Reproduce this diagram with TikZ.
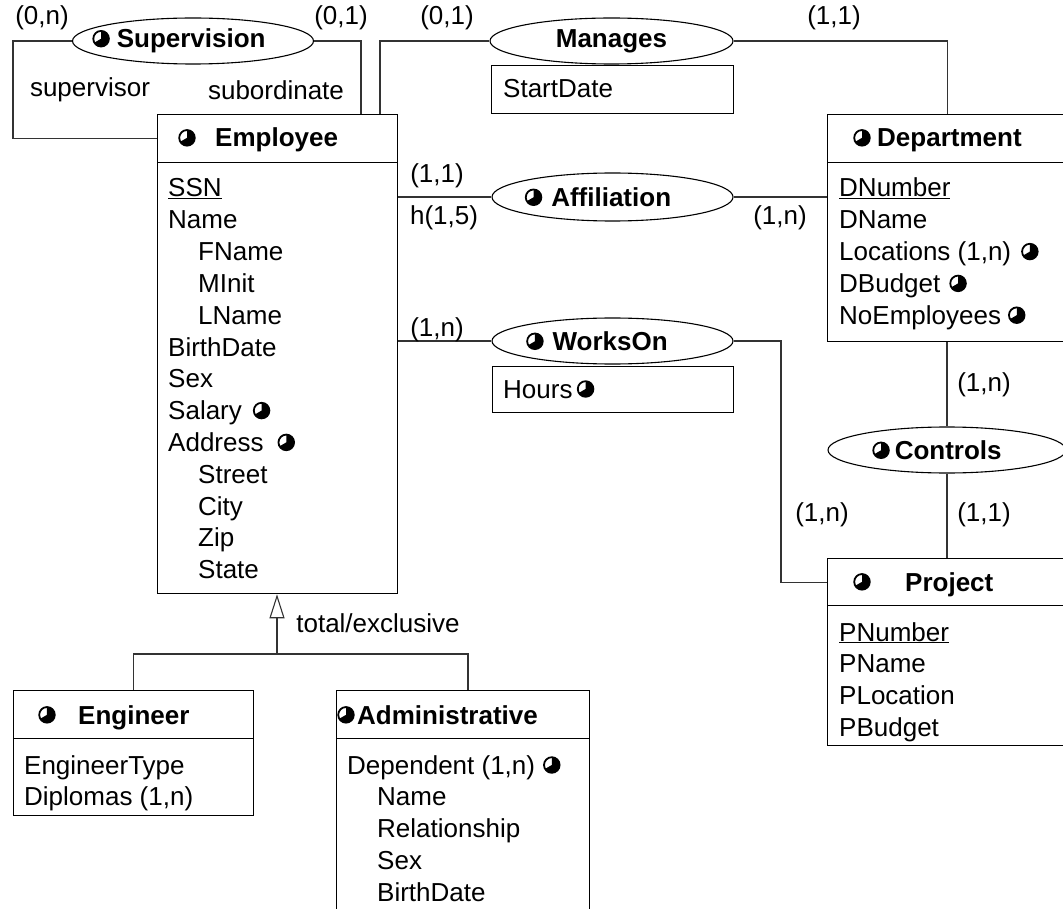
\documentclass[tikz,border=0pt]{standalone}
\usepackage{fontspec}
\setmainfont{Liberation Sans}
\usetikzlibrary{shapes.geometric,arrows.meta}
\newcommand\fs{\fontsize{26}{31.8}\selectfont}
\newcommand\clk{\tikz[baseline={(0pt,-9pt)},x=1pt,y=1pt]{\draw[line width=1.8pt] (0,0) circle (7.8pt); \fill (0,0) -- (0pt,7.8pt) arc[start angle=90,end angle=-150,radius=7.8pt] -- cycle;}}
\tikzset{
  box/.style={draw, line width=1.3pt, anchor=north west, inner sep=0pt},
  rel/.style={draw, ellipse, line width=1.1pt, inner sep=0pt},
  reltxt/.style={inner sep=0pt, font=\fs\bfseries},
  lbl/.style={inner sep=0pt, font=\fs},
  attr/.style={inner sep=0pt, font=\fs, anchor=base west},
  hd/.style={inner sep=0pt, font=\fs\bfseries, anchor=base west},
  ic/.style={inner sep=0pt},
  conn/.style={line width=1.1pt, draw=black!80},
}
\begin{document}
\begin{tikzpicture}[x=1pt,y=-1pt]
\useasboundingbox (0,0) rectangle (1063,909);
\fill[white] (0,0) rectangle (1063,909);
% ---------- Employee
\node[box, minimum width=240, minimum height=48] (empH) at (157,114) {};
\node[box, minimum width=240, minimum height=431] (empB) at (157,162) {};
\node[ic] (empC) at (187,138) {\clk};
\node[hd] (empT) at (215,147) {Employee};
\foreach \t [count=\i] in {\underline{SSN},Name,\hspace*{30pt}FName,\hspace*{30pt}MInit,\hspace*{30pt}LName,BirthDate,Sex,{Salary\hspace{11pt}\clk},{Address\hspace{14pt}\clk},\hspace*{30pt}Street,\hspace*{30pt}City,\hspace*{30pt}Zip,\hspace*{30pt}State}
  \node[attr] (emp\i) at (168,{197+31.8*(\i-1)}) {\t};
% ---------- Department
\node[box, minimum width=240, minimum height=48] (depH) at (827,114) {};
\node[box, minimum width=240, minimum height=179] (depB) at (827,162) {};
\node[ic] (depC) at (862,138) {\clk};
\node[hd] (depT) at (877,147) {Department};
\foreach \t [count=\i] in {\underline{DNumber},DName,{Locations (1,n)\hspace{10pt}\clk},{DBudget\hspace{9pt}\clk},{NoEmployees\hspace{7pt}\clk}}
  \node[attr] (dep\i) at (839,{197+31.8*(\i-1)}) {\t};
% ---------- Project
\node[box, minimum width=240, minimum height=47] (prjH) at (827,558) {};
\node[box, minimum width=240, minimum height=140] (prjB) at (827,605) {};
\node[ic] (prjC) at (862,582) {\clk};
\node[hd] (prjT) at (905,591) {Project};
\foreach \t [count=\i] in {\underline{PNumber},PName,PLocation,PBudget}
  \node[attr] (prj\i) at (839,{641+31.8*(\i-1)}) {\t};
% ---------- Engineer
\node[box, minimum width=240, minimum height=48] (engH) at (13,690) {};
\node[box, minimum width=240, minimum height=77] (engB) at (13,738) {};
\node[ic] (engC) at (47,715) {\clk};
\node[hd] (engT) at (78,724) {Engineer};
\foreach \t [count=\i] in {EngineerType,{Diplomas (1,n)}}
  \node[attr] (eng\i) at (24,{774+31.8*(\i-1)}) {\t};
% ---------- Administrative
\node[box, minimum width=253, minimum height=48] (admH) at (336,690) {};
\node[box, minimum width=253, minimum height=200] (admB) at (336,738) {};
\node[ic] (admC) at (346,715) {\clk};
\node[hd] (admT) at (357,724) {Administrative};
\foreach \t [count=\i] in {{Dependent (1,n)\hspace{8pt}\clk},\hspace*{30pt}Name,\hspace*{30pt}Relationship,\hspace*{30pt}Sex,\hspace*{30pt}BirthDate}
  \node[attr] (adm\i) at (347,{774+31.8*(\i-1)}) {\t};
% ---------- relationships
\node[rel, minimum width=241, minimum height=46] (sup) at (193,41) {};
\node[reltxt] (supT) at (179,41) {\clk\hspace{7pt}Supervision};
\node[rel, minimum width=243, minimum height=46] (man) at (611.5,41) {};
\node[reltxt] (manT) at (611.5,41) {Manages};
\node[box, minimum width=242, minimum height=48] (sdt) at (491,65) {};
\node[attr] (sdtT) at (503,98) {StartDate};
\node[rel, minimum width=241, minimum height=48] (aff) at (612.5,197) {};
\node[reltxt] (affT) at (598,197) {\clk\hspace{9pt}Affiliation};
\node[rel, minimum width=241, minimum height=46] (won) at (612.5,341) {};
\node[reltxt] (wonT) at (597,341) {\clk\hspace{9pt}WorksOn};
\node[box, minimum width=241, minimum height=46] (hrs) at (492,366) {};
\node[attr] (hrsT) at (503,398) {Hours\,\clk};
\node[rel, minimum width=238, minimum height=46] (ctl) at (947,450) {};
\node[reltxt] (ctlT) at (937,450) {\clk\hspace{5pt}Controls};
% ---------- connectors
\coordinate (supL) at (13,41);
\coordinate (supR) at (361,41);
\coordinate (manL) at (380,41);
\coordinate (wonR) at (781,341);
\coordinate (genM) at (277,654);
\coordinate (genR) at (468,654);
\draw[conn] (sup.west) -- (supL) |- (empH.west);
\draw[conn] (sup.east) -- (supR) -- (supR |- empH.north);
\draw[conn] (manL |- empH.north) -- (manL) -- (man.west);
\draw[conn] (man.east) -| (depH.north);
\draw[conn] (aff.west -| empB.east) -- (aff.west);
\draw[conn] (aff.east) -- (aff.east -| depB.west);
\draw[conn] (won.west -| empB.east) -- (won.west);
\draw[conn] (won.east) -- (wonR) |- (prjH.west);
\draw[conn] (depB.south -| ctl.north) -- (ctl.north);
\draw[conn] (ctl.south) -- (ctl.south |- prjH.north);
\draw[conn, -{Triangle[open,length=24pt,width=15pt]}] (genM) -- (genM |- empB.south);
\draw[conn] (engH.north) |- (genR) -- (genR |- admH.north);
% ---------- labels
\node[lbl] (l1) at (42,18) {(0,n)};
\node[lbl] (l2) at (341,18) {(0,1)};
\node[lbl] (l3) at (447,18) {(0,1)};
\node[lbl] (l4) at (834,18) {(1,1)};
\node[lbl] (l5) at (90,90) {supervisor};
\node[lbl] (l6) at (276,90) {subordinate};
\node[lbl] (l7) at (437,176) {(1,1)};
\node[lbl] (l8) at (444,218) {h(1,5)};
\node[lbl] (l9) at (780,218) {(1,n)};
\node[lbl] (l10) at (437,330) {(1,n)};
\node[lbl] (l11) at (984,385) {(1,n)};
\node[lbl] (l12) at (984,515) {(1,1)};
\node[lbl] (l13) at (822,515) {(1,n)};
\node[lbl] (l14) at (378,623) {total/exclusive};
\end{tikzpicture}
\end{document}
